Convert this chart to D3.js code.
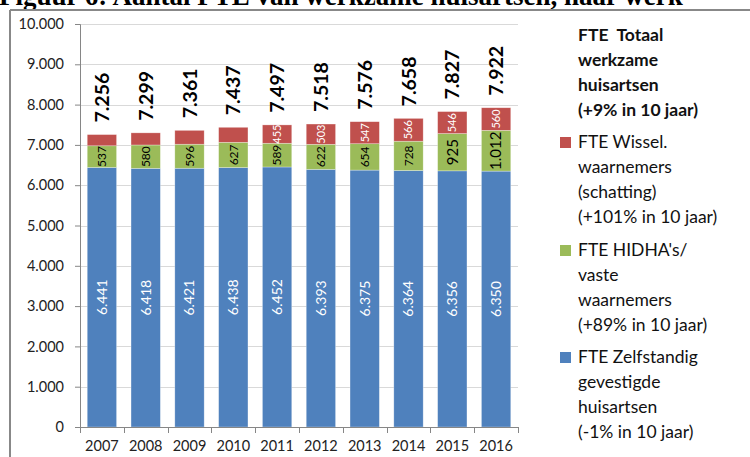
<!DOCTYPE html>
<html>
<head>
<meta charset="utf-8">
<script src="https://cdn.jsdelivr.net/npm/d3@7"></script>
<style>
  body { margin: 0; background: #fff; }
  svg { display: block; }
</style>
</head>
<body>
<svg id="chart" width="750" height="457"></svg>
<script>
// values
const years = ['2007', '2008', '2009', '2010', '2011', '2012', '2013', '2014', '2015', '2016'];
const zelfstandig = [6441, 6418, 6421, 6438, 6452, 6393, 6375, 6364, 6356, 6350];
const hidha = [537, 580, 596, 627, 589, 622, 654, 728, 925, 1012];
const wissel = [278, 301, 344, 372, 455, 503, 547, 566, 546, 560];
const wisselShown = [false, false, false, false, true, true, true, true, true, true];
const totals = [7256, 7299, 7361, 7437, 7497, 7518, 7576, 7658, 7827, 7922];
const yTicks = [0, 1000, 2000, 3000, 4000, 5000, 6000, 7000, 8000, 9000, 10000];

const seriesKeys = ['zelf', 'hidha', 'wissel'];
const colors = { zelf: '#4F81BD', hidha: '#9BBB59', wissel: '#C0504D' };

const legendBlocks = [
  { key: null, lines: ['FTE  Totaal', 'werkzame', 'huisartsen', '(+9% in 10 jaar)'] },
  { key: 'wissel', lines: ['FTE Wissel.', 'waarnemers', '(schatting)', '(+101% in 10 jaar)'] },
  { key: 'hidha', lines: ['FTE HIDHA\'s/', 'vaste', 'waarnemers', '(+89% in 10 jaar)'] },
  { key: 'zelf', lines: ['FTE Zelfstandig', 'gevestigde', 'huisartsen', '(-1% in 10 jaar)'] }
];

const rows = years.map((y, i) => ({
  year: y, zelf: zelfstandig[i], hidha: hidha[i], wissel: wissel[i], total: totals[i], showW: wisselShown[i]
}));

const svg = d3.select('#chart');
const font = 'Lato, "Open Sans", sans-serif';

// title, mostly cut off at the top of the picture (as in the source)
svg.append('text')
    .attr('x', -1)
    .attr('y', 5)
    .style('font-family', '"Liberation Serif", "Times New Roman", serif')
    .style('font-weight', 'bold')
    .style('font-size', '27px')
    .attr('fill', '#000')
    .text('Figuur 6: Aantal FTE van werkzame huisartsen, naar werk');

// chart frame (top and left edges visible)
svg.append('line').attr('x1', 10).attr('x2', 750).attr('y1', 10).attr('y2', 10)
    .attr('stroke', '#888').attr('stroke-width', 2);
svg.append('line').attr('x1', 10).attr('x2', 10).attr('y1', 10).attr('y2', 457)
    .attr('stroke', '#888').attr('stroke-width', 2);

const plotL = 80, plotR = 518, plotT = 24, plotB = 427;

const x = d3.scaleBand().domain(years).range([plotL, plotR]).paddingInner(0.33).paddingOuter(0.165);
const y = d3.scaleLinear().domain([0, 10000]).range([plotB, plotT]);

// gridlines
svg.append('g')
  .selectAll('line')
  .data(yTicks.filter(t => t > 0))
  .join('line')
    .attr('x1', plotL).attr('x2', plotR)
    .attr('y1', d => Math.round(y(d)) + 0.5).attr('y2', d => Math.round(y(d)) + 0.5)
    .attr('stroke', '#D9D9D9');

// stacked bars
const stack = d3.stack().keys(seriesKeys);
const layers = stack(rows);

svg.append('g')
  .selectAll('g')
  .data(layers)
  .join('g')
    .attr('fill', d => colors[d.key])
  .selectAll('rect')
  .data(d => d)
  .join('rect')
    .attr('x', d => x(d.data.year))
    .attr('width', x.bandwidth())
    .attr('y', d => y(d[1]))
    .attr('height', d => y(d[0]) - y(d[1]))
    .attr('stroke', '#fff')
    .attr('stroke-opacity', 0.5)
    .attr('stroke-width', 0.6);

// segment labels
const fmt = d3.formatLocale({ decimal: ',', thousands: '.', grouping: [3] }).format(',d');
const labelStyle = {
  zelf: { fill: '#fff', size: 14 },
  hidha: { fill: '#000', size: 12 },
  wissel: { fill: '#fff', size: 11 }
};

layers.forEach(layer => {
  const st = labelStyle[layer.key];
  svg.append('g')
    .selectAll('text')
    .data(layer.filter(d => layer.key !== 'wissel' || d.data.showW))
    .join('text')
      .attr('transform', d => {
        const cx = x(d.data.year) + x.bandwidth() / 2;
        const cy = (y(d[0]) + y(d[1])) / 2;
        return `translate(${cx},${cy}) rotate(-90)`;
      })
      .attr('text-anchor', 'middle')
      .attr('dy', '0.35em')
      .style('font-family', font)
      .style('font-size', d => (layer.key === 'hidha' && d.data.hidha > 900 ? 15 : st.size) + 'px')
      .attr('fill', st.fill)
      .text(d => fmt(d.data[layer.key]));
});

// totals above bars
svg.append('g')
  .selectAll('text')
  .data(rows)
  .join('text')
    .attr('transform', d => `translate(${x(d.year) + x.bandwidth() / 2},${y(d.total) - 12}) rotate(-90)`)
    .attr('text-anchor', 'start')
    .attr('dy', '0.36em')
    .style('font-family', font)
    .style('font-weight', 'bold')
    .style('font-size', '19.5px')
    .attr('fill', '#000')
    .text(d => fmt(d.total));

// y axis
const yAxis = svg.append('g')
    .attr('transform', `translate(${plotL},0)`)
    .call(d3.axisLeft(y).tickValues(yTicks).tickSize(5).tickPadding(11).tickFormat(fmt));
yAxis.select('.domain').attr('stroke', '#868686');
yAxis.selectAll('.tick line').attr('stroke', '#868686');
yAxis.selectAll('text').style('font-family', font).style('font-size', '14.5px').attr('fill', '#222');

// x axis with ticks at category boundaries
const xAxis = svg.append('g')
    .attr('transform', `translate(0,${plotB})`)
    .call(d3.axisBottom(x).tickSize(0).tickPadding(14));
xAxis.select('.domain').attr('stroke', '#868686').attr('d', `M${plotL},0.5H${plotR}`);
xAxis.selectAll('text').style('font-family', font).style('font-size', '14.5px').attr('fill', '#222');
const step = x.step();
xAxis.append('g')
  .selectAll('line')
  .data(d3.range(years.length + 1))
  .join('line')
    .attr('x1', i => Math.round(plotL + i * step) + 0.5)
    .attr('x2', i => Math.round(plotL + i * step) + 0.5)
    .attr('y1', 0).attr('y2', 6)
    .attr('stroke', '#868686');

// legend
const legend = svg.append('g').style('font-family', font).style('font-size', '17.5px');
const lineH = 25;
const blockStarts = [35, 142, 250, 357];
legendBlocks.forEach((b, bi) => {
  const g = legend.append('g').attr('transform', `translate(578,${blockStarts[bi]})`);
  if (b.key) {
    g.append('rect').attr('x', -18).attr('y', -5).attr('width', 11).attr('height', 11).attr('fill', colors[b.key]);
  }
  b.lines.forEach((t, li) => {
    g.append('text')
      .attr('y', li * lineH)
      .attr('dy', '0.35em')
      .style('white-space', 'pre')
      .style('font-weight', b.key ? 'normal' : 'bold')
      .attr('fill', '#111')
      .text(t);
  });
});
</script>
</body>
</html>
